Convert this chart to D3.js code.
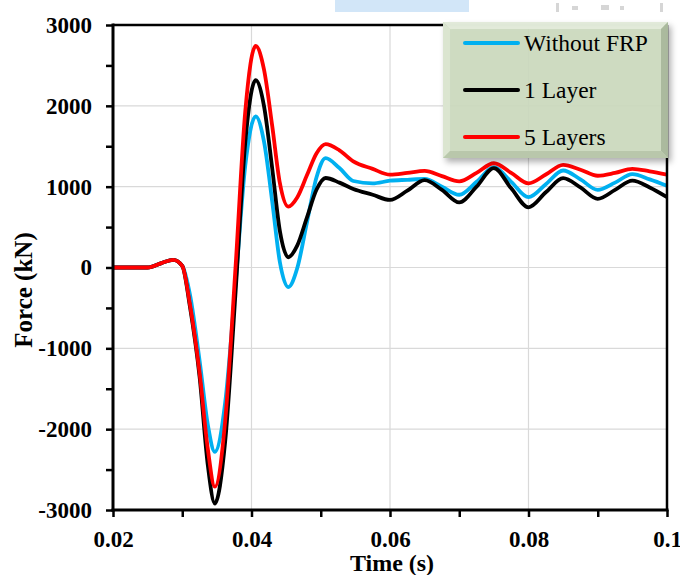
<!DOCTYPE html>
<html>
<head>
<meta charset="utf-8">
<script src="https://cdn.jsdelivr.net/npm/d3@7"></script>
<style>
  html, body { margin: 0; padding: 0; background: #fff; }
  svg { display: block; }
  text { font-family: "Liberation Serif", "Times New Roman", serif; }
</style>
</head>
<body>
<script>
// ---------------- data ----------------
const time = [0.020, 0.025, 0.0270, 0.0287, 0.0300, 0.0311, 0.0325, 0.0337, 0.0347, 0.0362,
  0.0377, 0.0391, 0.0406, 0.0418, 0.0430, 0.0441, 0.0453, 0.0466, 0.0480, 0.0494,
  0.0507, 0.0527, 0.0547, 0.0575, 0.0600, 0.0625, 0.0650, 0.0675, 0.0700, 0.0725,
  0.0750, 0.0775, 0.0800, 0.0825, 0.0850, 0.0875, 0.0900, 0.0925, 0.0950, 0.0975, 0.1000];

const withoutFRP = [0, 0, 55, 95, 20, -330, -1150, -1950, -2280, -1670,
  -200, 1260, 1870, 1560, 810, 65, -243, -10, 555, 1120,
  1354, 1230, 1070, 1040, 1074, 1085, 1095, 1000, 900, 1060,
  1240, 1060, 870, 1030, 1200, 1090, 960, 1050, 1155, 1090, 1010];

const oneLayer = [0, 0, 55, 95, 20, -480, -1350, -2450, -2920, -2150,
  -300, 1550, 2317, 2000, 1220, 450, 127, 270, 617, 965,
  1107, 1050, 971, 900, 836, 950, 1080, 960, 805, 1000,
  1230, 980, 745, 930, 1105, 990, 850, 960, 1075, 990, 870];

const fiveLayers = [0, 0, 55, 95, 20, -450, -1300, -2250, -2712, -1900,
  10, 1930, 2740, 2450, 1746, 1043, 753, 866, 1140, 1414,
  1527, 1450, 1313, 1220, 1148, 1170, 1195, 1130, 1065, 1170,
  1290, 1170, 1040, 1150, 1270, 1210, 1135, 1170, 1220, 1190, 1150];

const seriesNames = ["Without FRP", "1 Layer", "5 Layers"];
const seriesColors = ["#00b0f0", "#000000", "#ff0000"];
const xTicks = [0.02, 0.04, 0.06, 0.08, 0.1];
const xTickLabels = ["0.02", "0.04", "0.06", "0.08", "0.1"];
const xMinorTicks = [0.03, 0.05, 0.07, 0.09];
const yTicks = [-3000, -2000, -1000, 0, 1000, 2000, 3000];
const yTickLabels = ["-3000", "-2000", "-1000", "0", "1000", "2000", "3000"];
const yMinorTicks = [-2500, -1500, -500, 500, 1500, 2500];
const xTitle = "Time (s)";
const yTitle = "Force (kN)";

// ---------------- layout ----------------
const W = 680, H = 575;
const pL = 113, pR = 667, pT = 25, pB = 510;

const svg = d3.select("body").append("svg").attr("width", W).attr("height", H);

// scan artifacts at the top
svg.append("rect").attr("x", 335).attr("y", 0).attr("width", 134).attr("height", 12).attr("fill", "#d2e6f8");
[[556, 3, 3, 9], [572, 6, 6, 4], [601, 5, 8, 5], [620, 6, 4, 4], [660, 3, 3, 9]].forEach(r => {
  svg.append("rect").attr("x", r[0]).attr("y", r[1]).attr("width", r[2]).attr("height", r[3]).attr("fill", "#d6d6d6");
});

const x = d3.scaleLinear().domain([0.02, 0.1]).range([pL, pR]);
const y = d3.scaleLinear().domain([-3000, 3000]).range([pB, pT]);

// gridlines
const grid = svg.append("g");
grid.selectAll("line.gx").data([0.04, 0.06, 0.08]).join("line")
  .attr("x1", d => x(d)).attr("x2", d => x(d)).attr("y1", pT).attr("y2", pB)
  .attr("stroke", "#d9d9d9").attr("stroke-width", 1.2);
grid.selectAll("line.gy").data([-2000, -1000, 0, 1000, 2000]).join("line")
  .attr("x1", pL).attr("x2", pR).attr("y1", d => y(d)).attr("y2", d => y(d))
  .attr("stroke", "#d9d9d9").attr("stroke-width", 1.2);

// series
const line = d3.line().x(d => x(d[0])).y(d => y(d[1])).curve(d3.curveMonotoneX);
const allSeries = [withoutFRP, oneLayer, fiveLayers];
allSeries.forEach((vals, i) => {
  svg.append("path")
    .datum(time.map((t, j) => [t, vals[j]]))
    .attr("d", line)
    .attr("fill", "none")
    .attr("stroke", seriesColors[i])
    .attr("stroke-width", 3.8)
    .attr("stroke-linejoin", "round");
});

// frame
svg.append("line").attr("x1", pL).attr("x2", pR).attr("y1", pT).attr("y2", pT).attr("stroke", "#000").attr("stroke-width", 2.5);
svg.append("line").attr("x1", pR).attr("x2", pR).attr("y1", pT).attr("y2", pB).attr("stroke", "#000").attr("stroke-width", 2.5);

// axes
const xAxis = d3.axisBottom(x).tickValues(xTicks).tickFormat((d, i) => xTickLabels[i]).tickSizeOuter(0).tickSize(7).tickPadding(14);
const gx = svg.append("g").attr("transform", `translate(0,${pB})`).call(xAxis);
gx.select(".domain").attr("stroke-width", 3).attr("d", `M${pL - 1.5},0H${pR + 1.5}`);
gx.selectAll(".tick line").attr("stroke-width", 2.5);
gx.selectAll(".tick text").attr("font-family", "Liberation Serif").attr("font-weight", "bold").attr("font-size", 23).attr("fill", "#000");

const gxm = svg.append("g").attr("transform", `translate(0,${pB})`)
  .call(d3.axisBottom(x).tickValues(xMinorTicks).tickFormat("").tickSize(7).tickSizeOuter(0));
gxm.select(".domain").remove();
gxm.selectAll(".tick line").attr("stroke-width", 2.5);

const yAxis = d3.axisLeft(y).tickValues(yTicks).tickFormat((d, i) => yTickLabels[i]).tickSizeOuter(0).tickSize(7).tickPadding(14);
const gy = svg.append("g").attr("transform", `translate(${pL},0)`).call(yAxis);
gy.select(".domain").attr("stroke-width", 3).attr("d", `M0,${pT - 1.5}V${pB + 1.5}`);
gy.selectAll(".tick line").attr("stroke-width", 2.5);
gy.selectAll(".tick text").attr("font-family", "Liberation Serif").attr("font-weight", "bold").attr("font-size", 23).attr("fill", "#000");

const gym = svg.append("g").attr("transform", `translate(${pL},0)`)
  .call(d3.axisLeft(y).tickValues(yMinorTicks).tickFormat("").tickSize(7).tickSizeOuter(0));
gym.select(".domain").remove();
gym.selectAll(".tick line").attr("stroke-width", 2.5);

// axis titles
svg.append("text").attr("x", 392).attr("y", 571).attr("text-anchor", "middle")
  .attr("font-weight", "bold").attr("font-size", 24).text(xTitle);
svg.append("text").attr("transform", "translate(32,290) rotate(-90)").attr("text-anchor", "middle")
  .attr("font-weight", "bold").attr("font-size", 25).text(yTitle);

// legend
const defs = svg.append("defs");
const f = defs.append("filter").attr("id", "sh").attr("x", "-10%").attr("y", "-10%").attr("width", "130%").attr("height", "130%");
f.append("feDropShadow").attr("dx", 3).attr("dy", 4).attr("stdDeviation", 3).attr("flood-color", "#000").attr("flood-opacity", 0.35);

const lx0 = 443, ly0 = 22, lx1 = 668, ly1 = 158, bev = 7;
const lg = svg.append("g");
lg.append("rect").attr("x", lx0).attr("y", ly0).attr("width", lx1 - lx0).attr("height", ly1 - ly0)
  .attr("fill", "#cddbc0").attr("fill-opacity", 0.9).attr("filter", "url(#sh)");
lg.append("polygon").attr("points", `${lx0},${ly0} ${lx1},${ly0} ${lx1 - bev},${ly0 + bev} ${lx0 + bev},${ly0 + bev}`).attr("fill", "#e3ebdb").attr("opacity", 0.9);
lg.append("polygon").attr("points", `${lx0},${ly0} ${lx0 + bev},${ly0 + bev} ${lx0 + bev},${ly1 - bev} ${lx0},${ly1}`).attr("fill", "#dbe6d1").attr("opacity", 0.9);
lg.append("polygon").attr("points", `${lx1},${ly0} ${lx1},${ly1} ${lx1 - bev},${ly1 - bev} ${lx1 - bev},${ly0 + bev}`).attr("fill", "#a9b89c").attr("opacity", 0.95);
lg.append("polygon").attr("points", `${lx0},${ly1} ${lx0 + bev},${ly1 - bev} ${lx1 - bev},${ly1 - bev} ${lx1},${ly1}`).attr("fill", "#b7c6aa").attr("opacity", 0.95);

const rowsY = [43, 90, 137];
seriesNames.forEach((name, i) => {
  lg.append("line").attr("x1", 465).attr("x2", 518).attr("y1", rowsY[i]).attr("y2", rowsY[i])
    .attr("stroke", seriesColors[i]).attr("stroke-width", 4).attr("stroke-linecap", "round");
  lg.append("text").attr("x", 524).attr("y", rowsY[i]).attr("dy", "0.34em")
    .attr("font-size", 23.5).attr("fill", "#000").text(name);
});
</script>
</body>
</html>
